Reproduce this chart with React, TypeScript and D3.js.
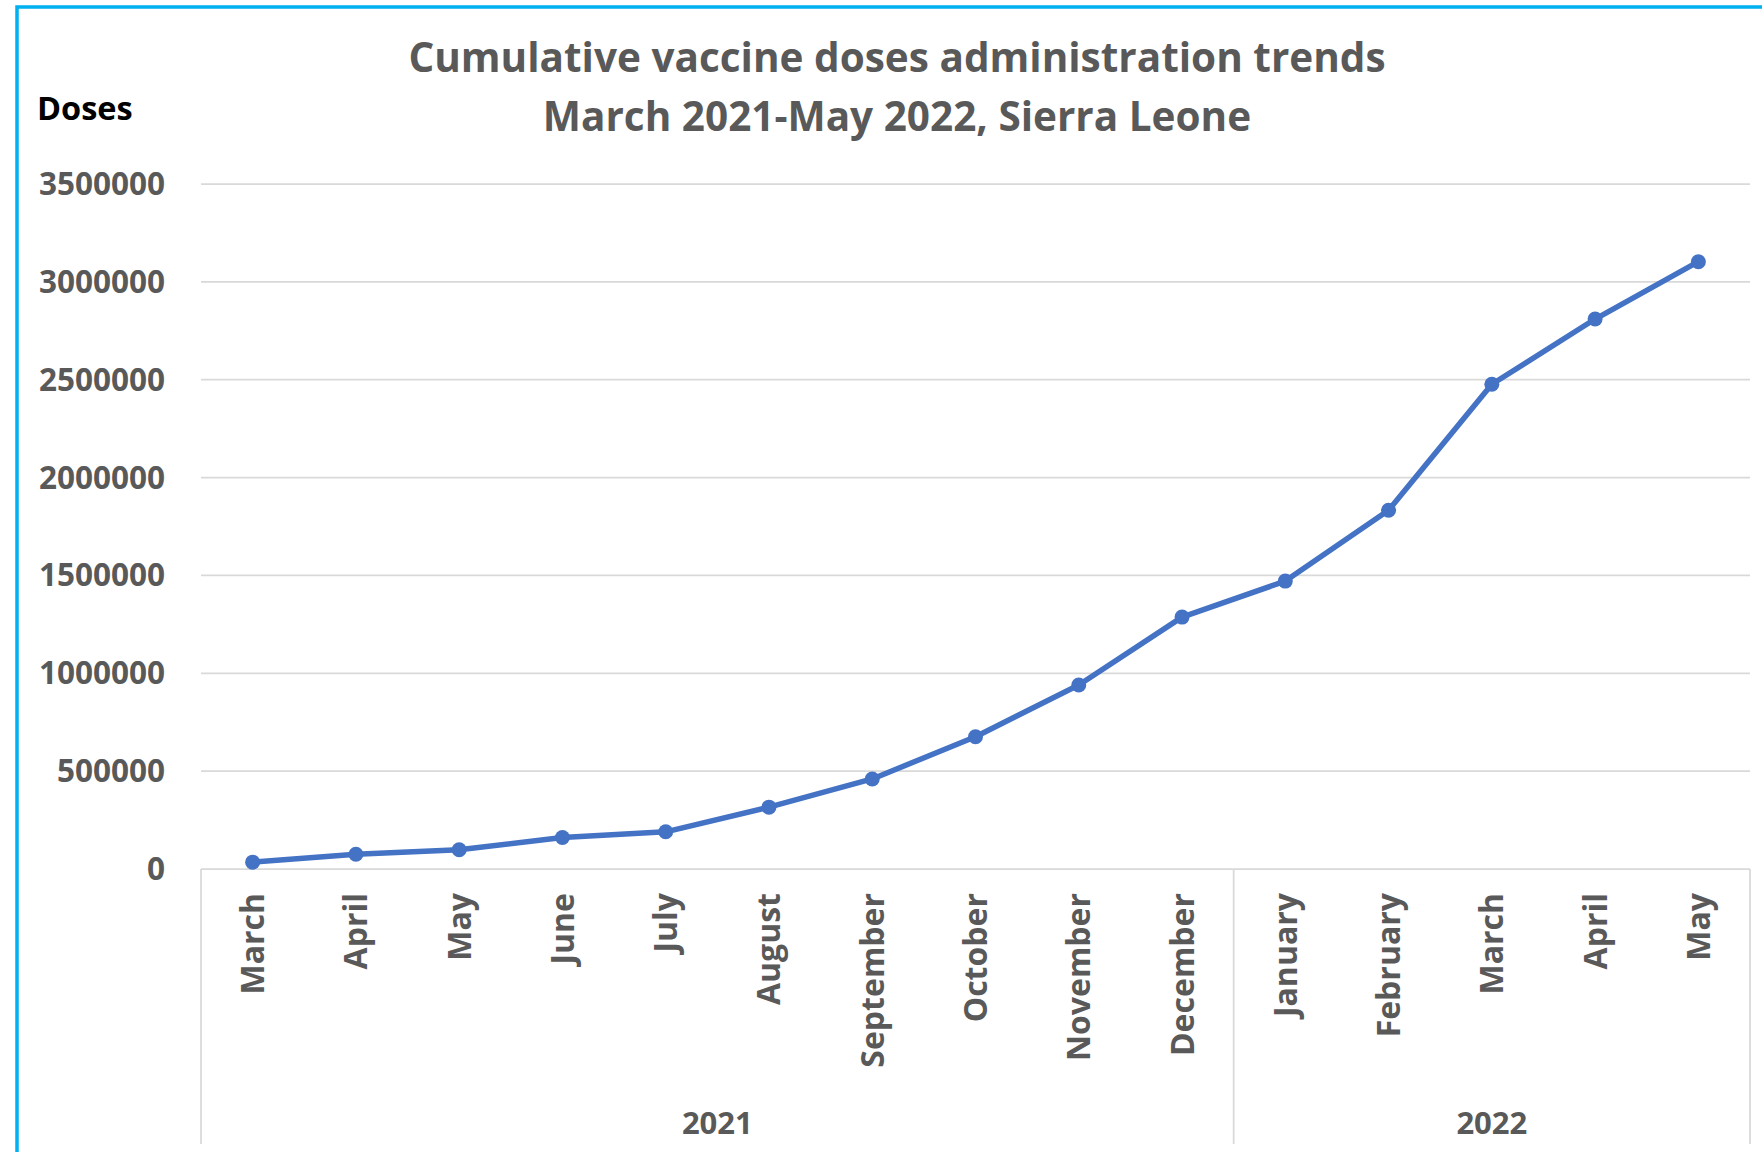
import React from 'react';
import * as d3 from 'd3';

const months = ['March', 'April', 'May', 'June', 'July', 'August', 'September', 'October', 'November', 'December', 'January', 'February', 'March', 'April', 'May'];
const monthYears = ['2021', '2021', '2021', '2021', '2021', '2021', '2021', '2021', '2021', '2021', '2022', '2022', '2022', '2022', '2022'];
const years = ['2021', '2022'];
const doses = [35000, 75000, 98000, 161000, 190000, 316000, 460000, 676000, 940000, 1287000, 1471000, 1833000, 2477000, 2810000, 3103000];
const yTicks = [0, 500000, 1000000, 1500000, 2000000, 2500000, 3000000, 3500000];

const W = 1762;
const H = 1152;
const margin = { top: 184, right: 12, bottom: 283, left: 201 };
const font = "'Open Sans', 'Noto Sans', sans-serif";
const grey = '#595959';

export default function App() {
  const keys = months.map((m, i) => `${monthYears[i]}-${m}-${i}`);

  const x = d3.scaleBand<string>()
    .domain(keys)
    .range([margin.left, W - margin.right])
    .padding(0);

  const y = d3.scaleLinear()
    .domain([0, 3500000])
    .range([H - margin.bottom, margin.top]);

  const cx = (i: number) => (x(keys[i]) || 0) + x.bandwidth() / 2;

  const line = d3.line<number>()
    .x((_, i) => cx(i))
    .y(d => y(d));

  const y0 = y(0);
  const axisBottom = H - 8;

  // year groups: first and last index of each year
  const groups = years.map(yr => {
    const idx = monthYears.map((v, i) => (v === yr ? i : -1)).filter(i => i >= 0);
    const start = x(keys[idx[0]]) || 0;
    const end = (x(keys[idx[idx.length - 1]]) || 0) + x.bandwidth();
    return { yr, start, end };
  });

  return (
    <svg width={W} height={H} style={{ position: 'absolute', left: 0, top: 0, background: '#fff' }}>
      <rect x={0} y={0} width={W} height={H} fill="#fff" />
      {/* frame */}
      <path d={`M17,${H} L17,7 L${W},7`} fill="none" stroke="#00B0F0" strokeWidth={3.5} />

      {/* title */}
      <text x={897} y={72} textAnchor="middle" fontFamily={font} fontWeight={700} fontSize={40.5} fill={grey}>
        Cumulative vaccine doses administration trends
      </text>
      <text x={897} y={131} textAnchor="middle" fontFamily={font} fontWeight={700} fontSize={40.5} fill={grey}>
        March 2021-May 2022, Sierra Leone
      </text>

      <text x={37} y={120} fontFamily={font} fontWeight={700} fontSize={32.5} fill="#000">Doses</text>

      {/* gridlines + y labels */}
      {yTicks.map(t => (
        <g key={t}>
          <line x1={margin.left} x2={W - margin.right} y1={y(t)} y2={y(t)} stroke="#d9d9d9" strokeWidth={1.75} />
          <text x={165} y={y(t)} dy="0.35em" textAnchor="end" fontFamily={font} fontWeight={700} fontSize={31.5} fill={grey}>
            {t}
          </text>
        </g>
      ))}

      {/* category axis separators */}
      {[groups[0].start, ...groups.map(g => g.end)].map((gx, i) => (
        <line key={i} x1={gx} x2={gx} y1={y0} y2={axisBottom} stroke="#d9d9d9" strokeWidth={1.75} />
      ))}

      {/* month labels */}
      {months.map((m, i) => (
        <text key={keys[i]} transform={`translate(${cx(i)},${y0 + 24}) rotate(-90)`} textAnchor="end" dy="0.36em"
          fontFamily={font} fontWeight={700} fontSize={32} fill={grey}>
          {m}
        </text>
      ))}

      {/* year labels */}
      {groups.map(g => (
        <text key={g.yr} x={(g.start + g.end) / 2} y={1134} textAnchor="middle" fontFamily={font} fontWeight={700} fontSize={31} fill={grey}>
          {g.yr}
        </text>
      ))}

      {/* series */}
      <path d={line(doses) || ''} fill="none" stroke="#4472C4" strokeWidth={5.5} strokeLinejoin="round" />
      {doses.map((d, i) => (
        <circle key={keys[i]} cx={cx(i)} cy={y(d)} r={7.5} fill="#4472C4" />
      ))}
    </svg>
  );
}
